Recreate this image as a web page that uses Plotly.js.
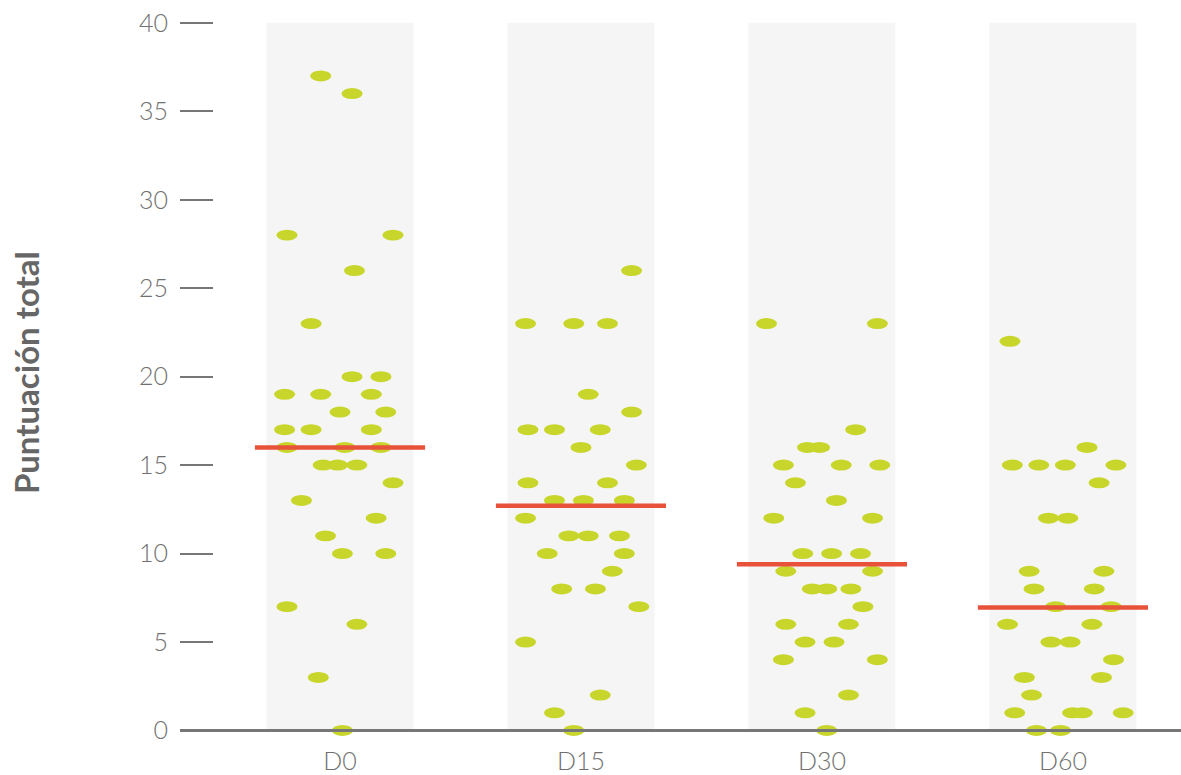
<!DOCTYPE html>
<html>
<head>
<meta charset="utf-8">
<script src="https://cdn.plot.ly/plotly-3.0.1.min.js"></script>
<style>
  html, body { margin: 0; padding: 0; background: #ffffff; }
  #chart { width: 1181px; height: 775px; }
</style>
</head>
<body>
<div id="chart"></div>
<script>
// Visit groups
const categories = ['D0', 'D15', 'D30', 'D60'];

// Individual total scores per visit, with the horizontal jitter (category units) of each dot
const scoresD0 = [37, 36, 28, 28, 26, 23, 20, 20, 19, 19, 19, 18, 18, 17, 17, 17,
                  16, 16, 16, 15, 15, 15, 14, 13, 12, 11, 10, 10, 7, 6, 3, 0];
const jitterD0 = [-0.08, 0.05, -0.22, 0.22, 0.06, -0.12, 0.05, 0.17, -0.23, -0.08, 0.13, 0.00, 0.19, -0.23, -0.12, 0.13,
                  -0.22, 0.02, 0.17, -0.07, -0.01, 0.07, 0.22, -0.16, 0.15, -0.06, 0.01, 0.19, -0.22, 0.07, -0.09, 0.01];

const scoresD15 = [26, 23, 23, 23, 19, 18, 17, 17, 17, 16, 15, 14, 14, 13, 13, 13,
                   12, 11, 11, 11, 10, 10, 9, 8, 8, 7, 5, 2, 1, 0];
const jitterD15 = [0.21, -0.23, -0.03, 0.11, 0.03, 0.21, -0.22, -0.11, 0.08, 0.00, 0.23, -0.22, 0.11, -0.11, 0.01, 0.18,
                   -0.23, -0.05, 0.03, 0.16, -0.14, 0.18, 0.13, -0.08, 0.06, 0.24, -0.23, 0.08, -0.11, -0.03];

const scoresD30 = [23, 23, 17, 16, 16, 15, 15, 15, 14, 13, 12, 12, 10, 10, 10, 9,
                   9, 8, 8, 8, 7, 6, 6, 5, 5, 4, 4, 2, 1, 0];
const jitterD30 = [-0.23, 0.23, 0.14, -0.06, -0.01, -0.16, 0.08, 0.24, -0.11, 0.06, -0.20, 0.21, -0.08, 0.04, 0.16, -0.15,
                   0.21, -0.04, 0.02, 0.12, 0.17, -0.15, 0.11, -0.07, 0.05, -0.16, 0.23, 0.11, -0.07, 0.02];

const scoresD60 = [22, 16, 15, 15, 15, 15, 14, 12, 12, 9, 9, 8, 8, 7, 7, 6,
                   6, 5, 5, 4, 3, 3, 2, 1, 1, 1, 1, 0, 0];
const jitterD60 = [-0.22, 0.10, -0.21, -0.10, 0.01, 0.22, 0.15, -0.06, 0.02, -0.14, 0.17, -0.12, 0.13, -0.03, 0.20, -0.23,
                   0.12, -0.05, 0.03, 0.21, -0.16, 0.16, -0.13, -0.20, 0.04, 0.08, 0.25, -0.11, -0.01];

// Group summary level drawn as a horizontal bar
const groupLevels = [16.0, 12.7, 9.4, 6.95];

// Y axis ticks
const yTickValues = [0, 5, 10, 15, 20, 25, 30, 35, 40];
const yAxisTitle = 'Puntuación total';

const groupScores = [scoresD0, scoresD15, scoresD30, scoresD60];
const groupJitter = [jitterD0, jitterD15, jitterD30, jitterD60];

const DOT_COLOR = '#c8d62c';
const LEVEL_COLOR = '#e8513a';
const BAND_COLOR = '#f5f5f5';
const AXIS_GRAY = '#777777';
const TEXT_GRAY = '#707070';
const FONT = 'Lato, "Open Sans", "DejaVu Sans", sans-serif';

const BAND_HALF = 0.305;   // half width of the background band (category units)
const LEVEL_HALF = 0.353;  // half width of the summary bar
const DOT_RX = 0.0436;     // dot half width (category units)
const DOT_RY = 0.31;       // dot half height (score units)

const shapes = [];
const traces = [];

categories.forEach((cat, i) => {
  // light background band behind each group
  shapes.push({
    type: 'rect', xref: 'x', yref: 'y', layer: 'below',
    x0: i - BAND_HALF, x1: i + BAND_HALF, y0: 0, y1: 40,
    fillcolor: BAND_COLOR, line: { width: 0 }
  });
  // one elliptical dot per score
  groupScores[i].forEach((v, k) => {
    const cx = i + groupJitter[i][k];
    shapes.push({
      type: 'circle', xref: 'x', yref: 'y', layer: 'between',
      x0: cx - DOT_RX, x1: cx + DOT_RX, y0: v - DOT_RY, y1: v + DOT_RY,
      fillcolor: DOT_COLOR, line: { width: 0 }
    });
  });
  // invisible markers so the points still carry hover info
  traces.push({
    type: 'scatter', mode: 'markers', name: cat,
    x: groupScores[i].map((v, k) => i + groupJitter[i][k]),
    y: groupScores[i],
    marker: { size: 11, color: 'rgba(0,0,0,0)' },
    hovertemplate: cat + ': %{y}<extra></extra>',
    showlegend: false
  });
  // summary bar
  traces.push({
    type: 'scatter', mode: 'lines', name: cat + ' nivel',
    x: [i - LEVEL_HALF, i + LEVEL_HALF],
    y: [groupLevels[i], groupLevels[i]],
    line: { color: LEVEL_COLOR, width: 4.5 },
    hoverinfo: 'skip',
    showlegend: false
  });
});

const Y_MIN = -1.5, Y_MAX = 40.5;

const layout = {
  width: 1181, height: 775,
  margin: { l: 180, r: 0, t: 14, b: 18 },
  paper_bgcolor: '#ffffff', plot_bgcolor: '#ffffff',
  font: { family: FONT, color: TEXT_GRAY, size: 24 },
  showlegend: false,
  xaxis: {
    range: [-0.664, 3.490],
    tickmode: 'array',
    tickvals: categories.map((c, i) => i),
    ticktext: categories,
    anchor: 'free',
    position: (0 - Y_MIN) / (Y_MAX - Y_MIN),
    showline: true, linecolor: AXIS_GRAY, linewidth: 2.2,
    showgrid: false, zeroline: false,
    ticks: '',
    ticklabelstandoff: 8,
    tickfont: { family: FONT, size: 25, color: TEXT_GRAY, weight: 300 },
    fixedrange: true
  },
  yaxis: {
    range: [Y_MIN, Y_MAX],
    tickmode: 'array',
    tickvals: yTickValues,
    ticks: 'inside', ticklen: 33, tickwidth: 2, tickcolor: AXIS_GRAY,
    showline: false, showgrid: false, zeroline: false,
    ticklabelstandoff: 11,
    tickfont: { family: FONT, size: 25, color: TEXT_GRAY, weight: 300 },
    fixedrange: true
  },
  annotations: [{
    text: '<b>' + yAxisTitle + '</b>',
    xref: 'paper', yref: 'y',
    x: 0, y: 20.2, xshift: -154,
    xanchor: 'center', yanchor: 'middle',
    textangle: -90, showarrow: false,
    font: { family: FONT, size: 33, color: '#666666' }
  }],
  shapes: shapes
};

Plotly.newPlot('chart', traces, layout, { displayModeBar: false, staticPlot: true });
</script>
</body>
</html>
